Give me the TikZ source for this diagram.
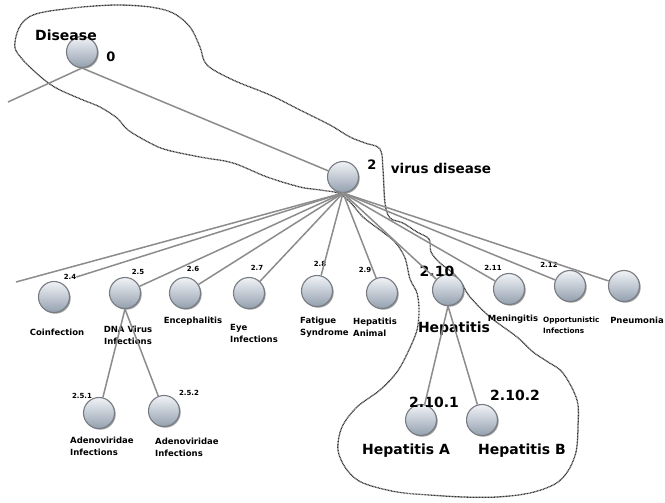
\documentclass[tikz,border=0pt]{standalone}
\usepackage{fontspec}
\setmainfont{DejaVu Sans}
\usetikzlibrary{shadows}
\definecolor{balltop}{RGB}{240,243,247}
\definecolor{ballbot}{RGB}{148,160,175}
\definecolor{edgegray}{RGB}{140,140,140}
\definecolor{rim}{RGB}{120,124,130}
\begin{document}
\begin{tikzpicture}[x=1pt,y=-1pt,
  ball/.style={circle, minimum size=31pt, inner sep=0pt, draw=rim, line width=1.1pt,
    top color=balltop, bottom color=ballbot,
    drop shadow={shadow xshift=1.2pt, shadow yshift=-1.2pt, opacity=0.55, fill=black!70}},
  link/.style={draw=edgegray, line width=1.5pt},
  num/.style={inner sep=0pt, font=\fontsize{7}{8}\selectfont\bfseries},
  bignum/.style={inner sep=0pt, font=\fontsize{14}{16}\selectfont\bfseries},
  txt/.style={inner sep=0pt, font=\fontsize{8.5}{12}\selectfont\bfseries},
  smalltxt/.style={inner sep=0pt, font=\fontsize{7.3}{11}\selectfont\bfseries},
  bigtxt/.style={inner sep=0pt, font=\fontsize{14}{16}\selectfont\bfseries},
  region/.style={dash pattern=on 0.9pt off 0.6pt, line width=1.3pt, draw=black!80}]
\useasboundingbox[fill=white] (0,0) rectangle (665,503);

% hand-drawn selection outline
\draw[region] plot[smooth cycle, tension=0.55] coordinates {
  (33,15) (50,11) (83,7) (117,5) (150,7) (173,13) (190,27) (200,47) (207,65)
  (233,80) (270,95) (300,110) (330,125) (350,137) (365,143) (380,149)
  (383,170) (385,203) (390,218) (403,223) (417,232) (429,239) (431,252)
  (440,263) (453,273) (462,284) (470,297) (490,317) (517,337) (533,352)
  (548,362) (563,373) (577,400) (578,427) (576,452) (568,471) (555,484)
  (530,493) (497,497) (463,497) (430,495) (397,492) (363,483) (347,470)
  (338,450) (342,427) (357,407) (380,390) (397,372) (408,352) (417,330)
  (419,310) (417,293) (410,279) (405,258) (395,242) (380,230) (363,217)
  (350,202) (338,193) (320,190) (300,187) (267,177) (233,163) (200,157)
  (167,150) (150,143) (128,130) (117,118) (100,107) (83,100) (60,90)
  (47,82) (33,70) (23,60) (15,48) (17,33) (23,22)};

% tree nodes
\node[ball] (d0) at (82,52) {};
\node[ball] (n2) at (343,177) {};
\node[ball] (n24) at (54,297) {};
\node[ball] (n25) at (125,293) {};
\node[ball] (n26) at (185,293) {};
\node[ball] (n27) at (249,293) {};
\node[ball] (n28) at (317,291) {};
\node[ball] (n29) at (382,293) {};
\node[ball] (n210) at (448,290) {};
\node[ball] (n211) at (509,289) {};
\node[ball] (n212) at (570,286) {};
\node[ball] (npn) at (624,286) {};
\node[ball] (n251) at (99,413) {};
\node[ball] (n252) at (164,411) {};
\node[ball] (n2101) at (421,420) {};
\node[ball] (n2102) at (482,420) {};

\coordinate (left0) at (8,102);
\coordinate (left2) at (16,282);

% labels
\node[bigtxt] (t0) at (66,35) {Disease};
\node[font=\fontsize{13}{15}\selectfont\bfseries, inner sep=0pt] (l0) at (111,57) {0};
\node[font=\fontsize{13}{15}\selectfont\bfseries, inner sep=0pt, anchor=base] (l2) at (372,170) {2};
\node[font=\fontsize{13.5}{15}\selectfont\bfseries, inner sep=0pt, anchor=base] (t2) at (441,173) {virus disease};

\node[num] (l24) at (70,277) {2.4};
\node[num] (l25) at (138,272) {2.5};
\node[num] (l26) at (193,269) {2.6};
\node[num] (l27) at (257,268) {2.7};
\node[num] (l28) at (320,264) {2.8};
\node[num] (l29) at (365,270) {2.9};
\node[bignum] (l210) at (437,271) {2.10};
\node[num] (l211) at (493,268) {2.11};
\node[num] (l212) at (549,265) {2.12};
\node[num] (l251) at (82,396) {2.5.1};
\node[num] (l252) at (189,393) {2.5.2};
\node[bignum] (l2101) at (434,402) {2.10.1};
\node[bignum] (l2102) at (515,395) {2.10.2};

\node[txt] (t24) at (57,332) {Coinfection};
\node[txt, align=center] (t25) at (128,335) {DNA Virus\\Infections};
\node[txt] (t26) at (193,321) {Encephalitis};
\node[txt, align=left, anchor=west] (t27) at (230,333) {Eye\\Infections};
\node[txt, align=left, anchor=west] (t28) at (300,327) {Fatigue\\Syndrome};
\node[txt, align=left, anchor=west] (t29) at (353,327) {Hepatitis\\Animal};
\node[bigtxt, anchor=base] (t210) at (454,332) {Hepatitis};
\node[txt, anchor=base] (t211) at (513,321) {Meningitis};
\node[smalltxt, align=left, anchor=west] (t212) at (543,325) {Opportunistic\\Infections};
\node[txt] (tpn) at (637,320) {Pneumonia};
\node[txt, align=left, anchor=west] (t251) at (70,446) {Adenoviridae\\Infections};
\node[txt, align=left, anchor=west] (t252) at (155,447) {Adenoviridae\\Infections};
\node[bigtxt, anchor=base] (t2101) at (406,454) {Hepatitis A};
\node[bigtxt, anchor=base] (t2102) at (522,454) {Hepatitis B};

% connectors
\path[link] (d0.south) -- (left0);
\path[link] (d0.south) -- (n2);
\path[link] (n2.south) -- (left2);
\path[link] (n2.south) -- (l24.east);
\path[link] (n2.south) -- (n25);
\path[link] (n2.south) -- (n26);
\path[link] (n2.south) -- (n27);
\path[link] (n2.south) -- (n28);
\path[link] (n2.south) -- (n29);
\path[link] (n2.south) -- (n210);
\path[link] (n2.south) -- (n211);
\path[link] (n2.south) -- (n212);
\path[link] (n2.south) -- (npn);
\path[link] (n25.south) -- (n251);
\path[link] (n25.south) -- (n252);
\path[link] (n210.south) -- (n2101);
\path[link] (n210.south) -- (n2102);
\end{tikzpicture}
\end{document}
